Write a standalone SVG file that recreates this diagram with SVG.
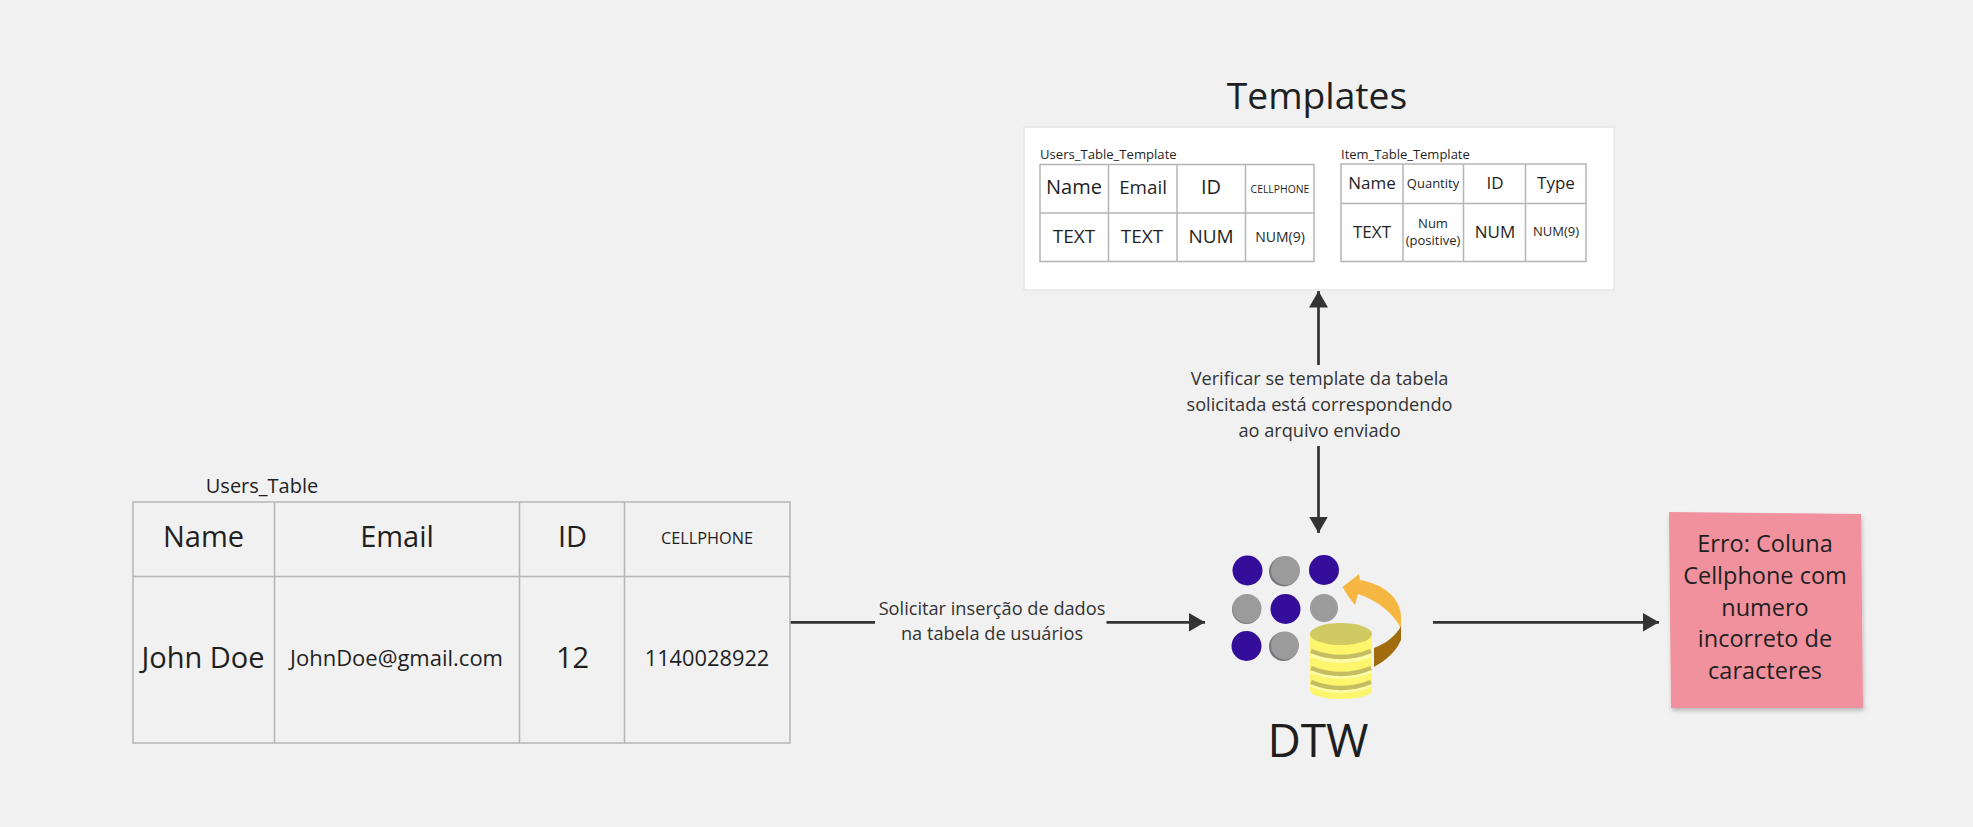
<svg xmlns="http://www.w3.org/2000/svg" width="1973" height="827" viewBox="0 0 1973 827">
<style>
text{font-family:"Open Sans","Noto Sans","Liberation Sans",sans-serif;fill:#1f1f1f;text-anchor:middle}
.g{stroke:#b5b5b5;stroke-width:1.5;fill:none}
.c{stroke:#333;stroke-width:2.700;fill:none;marker-end:url(#a)}
.l{stroke:#333;stroke-width:2.700;fill:none}
.lb{font-size:18.200px;fill:#333}
.cap{text-anchor:start}
</style>
<defs>
<marker id="a" markerUnits="userSpaceOnUse" markerWidth="17" markerHeight="20" refX="16.500" refY="10" orient="auto"><path d="M0 .5L16.500 10L0 19.500Z" fill="#333"/></marker>
<filter id="s" x="-5%" y="-5%" width="110%" height="110%"><feDropShadow dx="1" dy="3" stdDeviation="2" flood-color="#000" flood-opacity=".22"/></filter>
<filter id="b"><feGaussianBlur stdDeviation=".7"/></filter>
</defs>
<rect width="1973" height="827" fill="#f1f1f1"/>

<g id="connectors">
<path class="l" d="M790 622.300H875"/>
<path class="c" d="M1106.500 622.300H1205"/>
<path class="c" d="M1318.500 365V291"/>
<path class="c" d="M1318.500 446V533"/>
<path class="c" d="M1433 622.300H1659"/>
<text class="lb" x="992" y="615">Solicitar inserção de dados</text>
<text class="lb" x="992" y="640">na tabela de usuários</text>
<text class="lb" x="1319.500" y="385">Verificar se template da tabela</text>
<text class="lb" x="1319.500" y="411">solicitada está correspondendo</text>
<text class="lb" x="1319.500" y="437">ao arquivo enviado</text>
</g>

<g id="users-table">
<text x="262" y="493" font-size="20">Users_Table</text>
<rect class="g" x="133" y="502" width="657" height="241"/>
<path class="g" d="M274.500 502V743M519.500 502V743M624.500 502V743M133 576.500H790"/>
<text x="203.500" y="547" font-size="29">Name</text>
<text x="397" y="547" font-size="29">Email</text>
<text x="572.500" y="547" font-size="29">ID</text>
<text x="707" y="544" font-size="16.300">CELLPHONE</text>
<text x="203" y="668" font-size="29">John Doe</text>
<text x="396.500" y="666" font-size="22">JohnDoe@gmail.com</text>
<text x="572.500" y="668" font-size="29">12</text>
<text x="707" y="666" font-size="21.800">1140028922</text>
</g>

<g id="templates">
<text x="1317" y="109" font-size="37.200">Templates</text>
<rect x="1024" y="127" width="590" height="163" fill="#fff" stroke="#e6e6e6" stroke-width="1.500"/>
<g id="users-template">
<text class="cap" x="1040" y="159" font-size="13.100">Users_Table_Template</text>
<rect class="g" x="1040" y="164.500" width="274" height="97"/>
<path class="g" d="M1108.500 164.500V261.500M1177 164.500V261.500M1245.500 164.500V261.500M1040 213H1314"/>
<text x="1074" y="194" font-size="20">Name</text>
<text x="1143" y="194" font-size="18.800">Email</text>
<text x="1211" y="194" font-size="20">ID</text>
<text x="1280" y="193" font-size="10.400">CELLPHONE</text>
<text x="1074" y="243" font-size="19">TEXT</text>
<text x="1142" y="243" font-size="19">TEXT</text>
<text x="1211" y="243" font-size="19">NUM</text>
<text x="1280" y="242" font-size="14">NUM(9)</text>
</g>
<g id="item-template">
<text class="cap" x="1341" y="159" font-size="13">Item_Table_Template</text>
<rect class="g" x="1341" y="164" width="245" height="97.500"/>
<path class="g" d="M1403 164V261.500M1463.500 164V261.500M1525.500 164V261.500M1341 203.500H1586"/>
<text x="1372" y="189" font-size="17">Name</text>
<text x="1433" y="188" font-size="13">Quantity</text>
<text x="1495" y="189" font-size="17">ID</text>
<text x="1556" y="189" font-size="17">Type</text>
<text x="1372" y="238" font-size="17">TEXT</text>
<text x="1433" y="228" font-size="13">Num</text>
<text x="1433" y="245" font-size="13">(positive)</text>
<text x="1495" y="238" font-size="17">NUM</text>
<text x="1556" y="236" font-size="13">NUM(9)</text>
</g>
</g>

<g id="dtw">
<g filter="url(#b)">
<g fill="#77757d"><circle cx="1284" cy="571.500" r="15"/><circle cx="1246.500" cy="609.500" r="14.500"/><circle cx="1283.500" cy="646.500" r="14.500"/></g>
<g fill="#9b9b9b"><circle cx="1285.500" cy="570.500" r="14.500"/><circle cx="1247" cy="608.500" r="14.500"/><circle cx="1324" cy="608" r="14"/><circle cx="1285" cy="645.500" r="14"/></g>
<g fill="#340a9b"><circle cx="1247.500" cy="570.500" r="15"/><circle cx="1324" cy="570" r="15"/><circle cx="1285.500" cy="609" r="15"/><circle cx="1246.500" cy="646" r="15"/></g>
<path d="M1342.500 587L1359 574L1360 580C1383 584 1400 597 1401 616V628C1392 612 1378 601 1358 594L1355 605Q1348 597 1342.500 587Z" fill="#f6b743"/>
<path d="M1401 626V640C1396 652 1385 661 1374 667L1374 648C1385 644 1396 636 1401 626Z" fill="#a16c0a"/>
<path d="M1310 636C1310 624 1372 624 1372 636V690C1372 702 1310 702 1310 690Z" fill="#fdf56c"/>
<ellipse cx="1341" cy="634" rx="31" ry="11" fill="#d1ca63"/>
<path d="M1311 654Q1341 666 1371 654M1311 670Q1341 682 1371 670M1311 684Q1341 696 1371 684" stroke="#fffca8" stroke-width="6" fill="none"/>
<path d="M1311 651Q1341 663 1371 651M1311 668Q1341 680 1371 668M1311 682Q1341 694 1371 682" stroke="#c4bd62" stroke-width="4.500" fill="none"/>
</g>
<text x="1318" y="757" font-size="46">DTW</text>
</g>

<g id="error-note">
<path d="M1669 512L1861 514L1863 708L1671 708Z" fill="#f1919d" filter="url(#s)"/>
<text x="1765" y="552" font-size="23.500">Erro: Coluna</text>
<text x="1765" y="584" font-size="23.500">Cellphone com</text>
<text x="1765" y="616" font-size="23.500">numero</text>
<text x="1765" y="647" font-size="23.500">incorreto de</text>
<text x="1765" y="679" font-size="23.500">caracteres</text>
</g>
</svg>
